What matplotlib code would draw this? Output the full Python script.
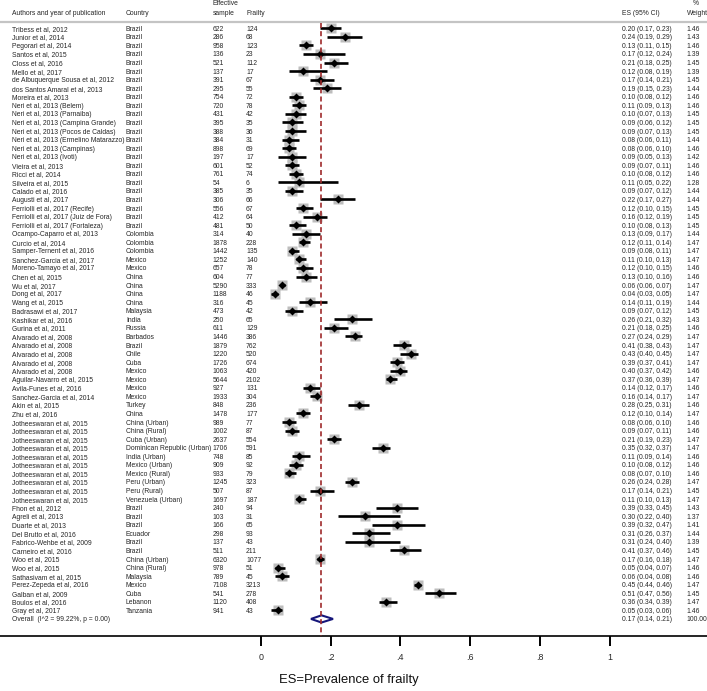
import matplotlib.pyplot as plt
from matplotlib.patches import Polygon

authors = [
    "Tribess et al, 2012", "Junior et al, 2014", "Pegorari et al, 2014", "Santos et al, 2015",
    "Closs et al, 2016", "Mello et al, 2017", "de Albuquerque Sousa et al, 2012",
    "dos Santos Amaral et al, 2013", "Moreira et al, 2013", "Neri et al, 2013 (Belem)",
    "Neri et al, 2013 (Parnaiba)", "Neri et al, 2013 (Campina Grande)",
    "Neri et al, 2013 (Pocos de Caldas)", "Neri et al, 2013 (Ermelino Matarazzo)",
    "Neri et al, 2013 (Campinas)", "Neri et al, 2013 (Ivoti)", "Vieira et al, 2013",
    "Ricci et al, 2014", "Silveira et al, 2015", "Calado et al, 2016", "Augusti et al, 2017",
    "Ferriolli et al, 2017 (Recife)", "Ferriolli et al, 2017 (Juiz de Fora)",
    "Ferriolli et al, 2017 (Fortaleza)", "Ocampo-Caparro et al, 2013", "Curcio et al, 2014",
    "Samper-Ternent et al, 2016", "Sanchez-Garcia et al, 2017", "Moreno-Tamayo et al, 2017",
    "Chen et al, 2015", "Wu et al, 2017", "Dong et al, 2017", "Wang et al, 2015",
    "Badrasawi et al, 2017", "Kashikar et al, 2016", "Gurina et al, 2011",
    "Alvarado et al, 2008", "Alvarado et al, 2008", "Alvarado et al, 2008",
    "Alvarado et al, 2008", "Alvarado et al, 2008", "Aguilar-Navarro et al, 2015",
    "Avila-Funes et al, 2016", "Sanchez-Garcia et al, 2014", "Akin et al, 2015",
    "Zhu et al, 2016", "Jotheeswaran et al, 2015", "Jotheeswaran et al, 2015",
    "Jotheeswaran et al, 2015", "Jotheeswaran et al, 2015", "Jotheeswaran et al, 2015",
    "Jotheeswaran et al, 2015", "Jotheeswaran et al, 2015", "Jotheeswaran et al, 2015",
    "Jotheeswaran et al, 2015", "Jotheeswaran et al, 2015", "Fhon et al, 2012",
    "Agreli et al, 2013", "Duarte et al, 2013", "Del Brutto et al, 2016",
    "Fabrico-Wehbe et al, 2009", "Carneiro et al, 2016", "Woo et al, 2015", "Woo et al, 2015",
    "Sathasivam et al, 2015", "Perez-Zepeda et al, 2016", "Galban et al, 2009",
    "Boulos et al, 2016", "Gray et al, 2017",
]
countries = (
    ["Brazil"] * 24
    + ["Colombia"] * 3 + ["Mexico"] * 2 + ["China"] * 4
    + ["Malaysia", "India", "Russia", "Barbados", "Brazil", "Chile", "Cuba", "Mexico",
       "Mexico", "Mexico", "Mexico", "Turkey", "China",
       "China (Urban)", "China (Rural)", "Cuba (Urban)", "Dominican Republic (Urban)",
       "India (Urban)", "Mexico (Urban)", "Mexico (Rural)", "Peru (Urban)", "Peru (Rural)",
       "Venezuela (Urban)", "Brazil", "Brazil", "Brazil", "Ecuador", "Brazil", "Brazil",
       "China (Urban)", "China (Rural)", "Malaysia", "Mexico", "Cuba", "Lebanon", "Tanzania"]
)
effective = [622, 286, 958, 136, 521, 137, 391, 295, 754, 720, 431, 395, 388, 384, 898, 197,
             601, 761, 54, 385, 306, 556, 412, 481, 314, 1878, 1442, 1252, 657, 604, 5290,
             1188, 316, 473, 250, 611, 1446, 1879, 1220, 1726, 1063, 5644, 927, 1933, 848,
             1478, 989, 1002, 2637, 1706, 748, 909, 933, 1245, 507, 1697, 240, 103, 166, 298,
             137, 511, 6320, 978, 789, 7108, 541, 1120, 941]
frail = [124, 68, 123, 23, 112, 17, 67, 55, 72, 78, 42, 35, 36, 31, 69, 17, 52, 74, 6, 35,
         66, 67, 64, 50, 40, 228, 135, 140, 78, 77, 333, 46, 45, 42, 65, 129, 386, 762, 520,
         674, 420, 2102, 131, 304, 236, 177, 77, 87, 554, 591, 85, 92, 79, 323, 87, 187, 94,
         31, 65, 93, 43, 211, 1077, 51, 45, 3213, 278, 408, 43]
es = [0.20, 0.24, 0.13, 0.17, 0.21, 0.12, 0.17, 0.19, 0.10, 0.11, 0.10, 0.09, 0.09, 0.08,
      0.08, 0.09, 0.09, 0.10, 0.11, 0.09, 0.22, 0.12, 0.16, 0.10, 0.13, 0.12, 0.09, 0.11,
      0.12, 0.13, 0.06, 0.04, 0.14, 0.09, 0.26, 0.21, 0.27, 0.41, 0.43, 0.39, 0.40, 0.37,
      0.14, 0.16, 0.28, 0.12, 0.08, 0.09, 0.21, 0.35, 0.11, 0.10, 0.08, 0.26, 0.17, 0.11,
      0.39, 0.30, 0.39, 0.31, 0.31, 0.41, 0.17, 0.05, 0.06, 0.45, 0.51, 0.36, 0.05]
ci_low = [0.17, 0.19, 0.11, 0.12, 0.18, 0.08, 0.14, 0.15, 0.08, 0.09, 0.07, 0.06, 0.07, 0.06,
          0.06, 0.05, 0.07, 0.08, 0.05, 0.07, 0.17, 0.10, 0.12, 0.08, 0.09, 0.11, 0.08, 0.10,
          0.10, 0.10, 0.06, 0.03, 0.11, 0.07, 0.21, 0.18, 0.24, 0.38, 0.40, 0.37, 0.37, 0.36,
          0.12, 0.14, 0.25, 0.10, 0.06, 0.07, 0.19, 0.32, 0.09, 0.08, 0.07, 0.24, 0.14, 0.10,
          0.33, 0.22, 0.32, 0.26, 0.24, 0.37, 0.16, 0.04, 0.04, 0.44, 0.47, 0.34, 0.03]
ci_high = [0.23, 0.29, 0.15, 0.24, 0.25, 0.19, 0.21, 0.23, 0.12, 0.13, 0.13, 0.12, 0.13, 0.11,
           0.10, 0.13, 0.11, 0.12, 0.22, 0.12, 0.27, 0.15, 0.19, 0.13, 0.17, 0.14, 0.11, 0.13,
           0.15, 0.16, 0.07, 0.05, 0.19, 0.12, 0.32, 0.25, 0.29, 0.43, 0.45, 0.41, 0.42, 0.39,
           0.17, 0.17, 0.31, 0.14, 0.10, 0.11, 0.23, 0.37, 0.14, 0.12, 0.10, 0.28, 0.21, 0.13,
           0.45, 0.40, 0.47, 0.37, 0.40, 0.46, 0.18, 0.07, 0.08, 0.46, 0.56, 0.39, 0.06]
weights = [1.46, 1.43, 1.46, 1.39, 1.45, 1.39, 1.45, 1.44, 1.46, 1.46, 1.45, 1.45, 1.45, 1.44,
           1.46, 1.42, 1.46, 1.46, 1.28, 1.44, 1.44, 1.45, 1.45, 1.45, 1.44, 1.47, 1.47, 1.47,
           1.46, 1.46, 1.47, 1.47, 1.44, 1.45, 1.43, 1.46, 1.47, 1.47, 1.47, 1.47, 1.46, 1.47,
           1.46, 1.47, 1.46, 1.47, 1.46, 1.46, 1.47, 1.47, 1.46, 1.46, 1.46, 1.47, 1.45, 1.47,
           1.43, 1.37, 1.41, 1.44, 1.39, 1.45, 1.47, 1.46, 1.46, 1.47, 1.45, 1.47, 1.46]

overall_label = "Overall  (I^2 = 99.22%, p = 0.00)"
overall_es = 0.174
overall_low = 0.144
overall_high = 0.207
overall_text = "0.17 (0.14, 0.21)"
overall_weight = "100.00"

ticks = [0, 0.2, 0.4, 0.6, 0.8, 1]
tick_labels = ["0", ".2", ".4", ".6", ".8", "1"]

plt.rcParams['font.family'] = ['Liberation Sans', 'DejaVu Sans']

# column positions (data x units)
X_AUTH, X_COUNTRY, X_EFF, X_FRAIL, X_ES, X_W = -0.712, -0.386, -0.137, -0.042, 1.034, 1.220
FS = 4.9
TXT = '#262626'
VA = 'center_baseline'

fig = plt.figure(figsize=(7.07, 6.91), dpi=100)
ax = fig.add_axes([0, 0, 1, 1])
ax.set_xlim(-0.7464, 1.2777)
ax.set_ylim(77.42, -3.306)

# header
ax.text(X_AUTH, -1.9, "Authors and year of publication", fontsize=FS, color=TXT, va=VA)
ax.text(X_COUNTRY, -1.9, "Country", fontsize=FS, color=TXT, va=VA)
ax.text(X_EFF, -2.96, "Effective", fontsize=FS, color=TXT, va=VA)
ax.text(X_EFF, -1.9, "sample", fontsize=FS, color=TXT, va=VA)
ax.text(X_FRAIL, -1.9, "Frailty", fontsize=FS, color=TXT, va=VA)
ax.text(X_ES, -1.9, "ES (95% CI)", fontsize=FS, color=TXT, va=VA)
ax.text(X_W + 0.017, -2.96, "%", fontsize=FS, color=TXT, va=VA)
ax.text(X_W, -1.9, "Weight", fontsize=FS, color=TXT, va=VA)
ax.axhline(-0.74, color='#c4c4c4', lw=1.6)

for i in range(len(authors)):
    ax.text(X_AUTH, i, authors[i], fontsize=FS, color=TXT, va=VA)
    ax.text(X_COUNTRY, i, countries[i], fontsize=FS, color=TXT, va=VA)
    ax.text(X_EFF, i, str(effective[i]), fontsize=FS, color=TXT, va=VA)
    ax.text(X_FRAIL, i, str(frail[i]), fontsize=FS, color=TXT, va=VA)
    ax.text(X_ES, i, f"{es[i]:.2f} ({ci_low[i]:.2f}, {ci_high[i]:.2f})",
            fontsize=FS, color=TXT, va=VA)
    ax.text(X_W, i, f"{weights[i]:.2f}", fontsize=FS, color=TXT, va=VA)

    side = 7.4 * (weights[i] / 1.47) ** 0.5
    ax.plot(es[i], i, marker='s', ms=side, color='#bdbdbd', mec='none', zorder=2)
    ax.hlines(i, ci_low[i], ci_high[i], color='black', lw=1.9, zorder=3)
    ax.plot(es[i], i, marker='D', ms=4.3, color='black', mec='none', zorder=4)

r = len(authors)
ax.text(X_AUTH, r, overall_label, fontsize=FS, color=TXT, va=VA)
ax.text(X_ES, r, overall_text, fontsize=FS, color=TXT, va=VA)
ax.text(X_W, r, overall_weight, fontsize=FS, color=TXT, va=VA)
diamond = Polygon([(overall_low, r), (overall_es, r - 0.42), (overall_high, r),
                   (overall_es, r + 0.42)], closed=True, facecolor='white',
                  edgecolor='#16167a', lw=1.5, zorder=3)
ax.add_patch(diamond)
ax.vlines(overall_es, -0.62, 71.0, color='#9e2a2b', lw=1.2, linestyles=(0, (3, 1.9)), zorder=5)

# x axis
for side_name in ['top', 'left', 'right']:
    ax.spines[side_name].set_visible(False)
ax.spines['bottom'].set_position(('data', 71.0))
ax.spines['bottom'].set_linewidth(1.2)
ax.set_yticks([])
ax.set_xticks(ticks, tick_labels)
ax.tick_params(axis='x', direction='out', length=7.2, width=1.4, labelsize=6.4, pad=5,
               labelcolor=TXT)
ax.set_xlabel("ES=Prevalence of frailty", fontsize=9.4, color='#111111')
ax.xaxis.set_label_coords(0.4936, 0.024)

fig.savefig('out.png', dpi=100)
